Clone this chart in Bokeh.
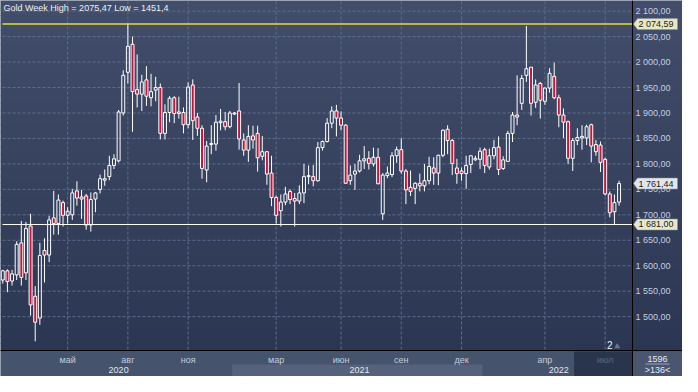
import numpy as np
from bokeh.plotting import figure
from bokeh.models import ColumnDataSource, Range1d
from bokeh.core.properties import value
from bokeh.embed import file_html
from bokeh.resources import INLINE

# ---------------- data (weekly gold candles) ----------------
opens = [1572, 1590, 1570, 1582, 1645, 1586, 1678, 1540, 1497, 1630,
         1621, 1694, 1683, 1724, 1699, 1700, 1747, 1735, 1737, 1680,
         1731, 1750, 1768, 1775, 1797, 1806, 1900, 1980, 2035, 1946,
         1937, 1965, 1930, 1945, 1950, 1860, 1901, 1930, 1899, 1901,
         1877, 1955, 1892, 1870, 1788, 1838, 1839, 1881, 1883, 1873,
         1898, 1904, 1847, 1827, 1855, 1860, 1815, 1824, 1782, 1734,
         1708, 1725, 1746, 1732, 1727, 1743, 1775, 1775, 1767, 1832,
         1844, 1880, 1904, 1890, 1876, 1767, 1780, 1786, 1806, 1811,
         1800, 1813, 1702, 1777, 1779, 1816, 1828, 1786, 1754, 1752,
         1762, 1757, 1767, 1792, 1782, 1817, 1868, 1846, 1792, 1786,
         1781, 1799, 1808, 1809, 1828, 1794, 1816, 1833, 1791, 1805,
         1860, 1896, 1919, 1974, 1990, 1921, 1958, 1923, 1949, 1972,
         1930, 1896, 1883, 1811, 1846, 1851, 1851, 1877, 1838, 1837,
         1809, 1741, 1706, 1725]
highs = [1592, 1593, 1592, 1648, 1688, 1686, 1702, 1560, 1645, 1654,
         1698, 1747, 1740, 1728, 1715, 1751, 1766, 1749, 1741, 1744,
         1745, 1779, 1789, 1816, 1819, 1906, 1984, 2075.47, 2050, 2015,
         1975, 1992, 1977, 1971, 1958, 1917, 1933, 1933, 1932, 1911,
         1960, 1966, 1900, 1876, 1845, 1876, 1896, 1908, 1902, 1904,
         1902, 1959, 1860, 1876, 1875, 1875, 1855, 1825, 1816, 1738,
         1740, 1755, 1750, 1743, 1758, 1800, 1797, 1798, 1843, 1846,
         1890, 1913, 1916, 1903, 1878, 1797, 1800, 1818, 1835, 1825,
         1832, 1831, 1782, 1795, 1823, 1834, 1850, 1790, 1787, 1764,
         1781, 1800, 1814, 1813, 1818, 1868, 1876, 1849, 1810, 1793,
         1816, 1816, 1816, 1832, 1832, 1830, 1847, 1854, 1815, 1865,
         1902, 1974, 1975, 2071, 1990, 1966, 1961, 1950, 1988, 1999,
         1936, 1909, 1885, 1851, 1870, 1876, 1877, 1879, 1847, 1844,
         1812, 1746, 1740, 1767]
lows = [1565, 1548, 1561, 1572, 1561, 1572, 1502, 1451.4, 1484, 1567,
        1607, 1661, 1661, 1677, 1683, 1690, 1718, 1692, 1671, 1667,
        1705, 1742, 1757, 1768, 1790, 1803, 1895, 1958, 1863, 1911,
        1904, 1914, 1913, 1923, 1848, 1848, 1882, 1880, 1889, 1860,
        1870, 1847, 1855, 1771, 1764, 1819, 1826, 1866, 1866, 1870,
        1896, 1828, 1816, 1804, 1830, 1785, 1807, 1759, 1717, 1683,
        1677, 1719, 1721, 1677, 1721, 1723, 1760, 1756, 1765, 1826,
        1842, 1870, 1854, 1866, 1761, 1759, 1749, 1783, 1790, 1789,
        1795, 1760, 1690, 1772, 1774, 1802, 1781, 1721, 1737, 1721,
        1746, 1746, 1760, 1759, 1758, 1813, 1819, 1778, 1761, 1767,
        1751, 1782, 1806, 1790, 1782, 1789, 1809, 1778, 1788, 1804,
        1843, 1876, 1906, 1961, 1895, 1910, 1889, 1916, 1940, 1927,
        1872, 1851, 1800, 1786, 1837, 1828, 1837, 1803, 1816, 1784,
        1738, 1695, 1681.0, 1718]
closes = [1590, 1569, 1584, 1642, 1577, 1673, 1523, 1489, 1620, 1621,
          1690, 1683, 1729, 1699, 1707, 1743, 1733, 1731, 1680, 1730,
          1743, 1771, 1771, 1797, 1810, 1902, 1974, 2031, 1942, 1937,
          1961, 1933, 1942, 1950, 1860, 1901, 1929, 1899, 1902, 1877,
          1951, 1885, 1870, 1791, 1835, 1840, 1882, 1884, 1873, 1900,
          1900, 1849, 1827, 1854, 1847, 1812, 1824, 1780, 1734, 1699,
          1725, 1741, 1730, 1727, 1743, 1775, 1777, 1767, 1832, 1844,
          1880, 1904, 1890, 1876, 1762, 1778, 1786, 1806, 1810, 1801,
          1813, 1761, 1778, 1782, 1816, 1828, 1786, 1749, 1746, 1762,
          1757, 1767, 1795, 1782, 1817, 1866, 1846, 1801, 1781, 1781,
          1797, 1816, 1811, 1825, 1797, 1816, 1832, 1789, 1808, 1860,
          1896, 1892, 1968, 1987, 1919, 1955, 1925, 1949, 1978, 1930,
          1896, 1882, 1811, 1846, 1852, 1854, 1873, 1835, 1824, 1803,
          1741, 1704, 1724, 1761.44]

price_ticks = [1500, 1550, 1600, 1650, 1700, 1750, 1800, 1850, 1900, 1950, 2000, 2050, 2100]
price_tick_labels = ["1 500,00", "1 550,00", "1 600,00", "1 650,00", "1 700,00", "1 750,00",
                     "1 800,00", "1 850,00", "1 900,00", "1 950,00", "2 000,00", "2 050,00",
                     "2 100,00"]
month_tick_bars = [14, 27, 40, 59, 73, 86, 99, 117, 130]
month_tick_labels = ["май", "авг", "ноя", "мар", "июн", "сен", "дек", "апр", "июл"]
year_label_bars = [25, 77, 120]
year_labels = ["2020", "2021", "2022"]
year_2021_first_bar, year_2021_last_bar = 50, 103
resistance_level = 2074.59
support_level = 1681.00
last_price = closes[-1]
event_marker_bar, event_marker_text = 131, "2"
total_bars_text, visible_bars_text = "1596", ">136<"
current_month_first_bar = 124

# ---------------- layout (pixels of the canvas) ----------------
W, H = 682, 376
PL, PR, PT, PB = 2, 632, 1, 350          # price pane
FONT = "Liberation Sans"
x_start, x_end = -0.06, 135.9            # bars visible in the price pane
y_start, y_end = 1433.5, 2119.0          # prices visible in the price pane
ppb = (PR - PL) / (x_end - x_start)
ppu = (PB - PT) / (y_end - y_start)

p = figure(width=W, height=H,
           x_range=Range1d(x_start - PL / ppb, x_start + (W - PL) / ppb),
           y_range=Range1d(y_end - (H - PT) / ppu, y_end + PT / ppu),
           x_axis_location=None, y_axis_location=None,
           output_backend="svg", toolbar_location=None, min_border=0,
           background_fill_color="#36425e", border_fill_color="#36425e",
           outline_line_color="#b9bec8", outline_line_width=2)
p.grid.visible = False
p.extra_x_ranges = {"px": Range1d(0, W)}
p.extra_y_ranges = {"px": Range1d(H, 0)}

# background gradient (price pane + right scale pane)
n_bands = 48
yb = np.linspace(0, PB, n_bands + 1)
top_rgb = np.array([0x41, 0x4d, 0x6a])
bot_rgb = np.array([0x2b, 0x37, 0x52])
tt = np.arange(n_bands) / (n_bands - 1)
band_cols = ["#%02x%02x%02x" % tuple(np.round(top_rgb + (bot_rgb - top_rgb) * t).astype(int)) for t in tt]
p.quad(left=0, right=W, top=yb[:-1], bottom=yb[1:] + 1.0, x_range_name="px", y_range_name="px",
       fill_color=band_cols, line_color=None)

# time-axis band
p.quad(left=[0], right=[W], top=[PB], bottom=[H], x_range_name="px", y_range_name="px",
       fill_color="#46536c", line_color=None)
p.quad(left=[year_2021_first_bar - 0.5], right=[year_2021_last_bar + 0.5], top=[PB + 14], bottom=[H],
       y_range_name="px", fill_color="#56627b", line_color=None)
p.quad(left=[PR], right=[W], top=[PB], bottom=[H], x_range_name="px", y_range_name="px",
       fill_color="#4a5670", line_color=None)

# grid
p.segment(x0=[PL] * len(price_ticks), y0=price_ticks, x1=[PR] * len(price_ticks), y1=price_ticks,
          x_range_name="px", line_color="#5e6d8c", line_width=1, line_dash="3 2")
p.segment(x0=month_tick_bars, y0=[PT] * len(month_tick_bars), x1=month_tick_bars,
          y1=[PB] * len(month_tick_bars), y_range_name="px",
          line_color="#5e6d8c", line_width=1, line_dash="3 2")

# candles
o = np.array(opens, dtype=float)
h = np.array(highs, dtype=float)
l = np.array(lows, dtype=float)
c = np.array(closes, dtype=float)
idx = np.arange(len(o))
up = c >= o
src = ColumnDataSource(dict(
    x=idx, h=h, l=l, top=np.maximum(o, c), bot=np.minimum(o, c),
    fill=np.where(up, "#36425e", "#c8143c"), alpha=np.where(up, 0.0, 1.0)))
p.segment(x0="x", y0="h", x1="x", y1="top", source=src, line_color="white", line_width=1)
p.segment(x0="x", y0="bot", x1="x", y1="l", source=src, line_color="white", line_width=1)
p.vbar(x="x", top="top", bottom="bot", width=0.64, source=src,
       fill_color="fill", fill_alpha="alpha", line_color="white", line_width=1)

# level lines
p.segment(x0=[PL], y0=[resistance_level], x1=[PR], y1=[resistance_level], x_range_name="px",
          line_color="#dede3a", line_width=1.5)
p.segment(x0=[PL], y0=[support_level], x1=[PR], y1=[support_level], x_range_name="px",
          line_color="white", line_width=1)

# pane separators
p.segment(x0=[PR], y0=[0], x1=[PR], y1=[H], x_range_name="px", y_range_name="px",
          line_color="black", line_width=1)
p.segment(x0=[0], y0=[PB], x1=[W], y1=[PB], x_range_name="px", y_range_name="px",
          line_color="black", line_width=1)

# price scale labels
p.text(x=[PR + 3] * len(price_ticks), y=price_ticks, text=price_tick_labels, x_range_name="px",
       text_font=value(FONT), text_font_size=value("9px"), text_color="#c6cee0",
       text_align="left", text_baseline="middle")

# price tags
tag_levels = [resistance_level, last_price, support_level]
tag_colors = ["#e6e8c6", "#e2e6ea", "#e6e8cc"]
th = 5.5 / ppu
p.patches(xs=[[PR + 1, PR + 5, PR + 45, PR + 45, PR + 5] for _ in tag_levels],
          ys=[[v, v + th, v + th, v - th, v - th] for v in tag_levels],
          x_range_name="px", fill_color=tag_colors, line_color="#8c929c", line_width=0.5)
p.text(x=[PR + 6] * len(tag_levels), y=tag_levels, text=[
    f"{v:,.2f}".replace(",", " ").replace(".", ",") for v in tag_levels],
       x_range_name="px", text_font=value(FONT), text_font_size=value("9px"), text_color="#1c1c1c",
       text_align="left", text_baseline="middle")

# title
title_text = f"Gold Week High = {max(highs):g} Low = {min(lows):g}".replace(".", ",")
p.text(x=[3], y=[7], text=[title_text], x_range_name="px", y_range_name="px",
       text_font=value(FONT), text_font_size=value("9px"), text_color="#eef0f4",
       text_align="left", text_baseline="middle")

# time labels
p.text(x=month_tick_bars, y=[PB + 9] * len(month_tick_bars), text=month_tick_labels,
       y_range_name="px", text_font=value(FONT), text_font_size=value("9px"), text_color="#c3cbdc",
       text_align="center", text_baseline="middle")
p.text(x=year_label_bars, y=[PB + 19.5] * len(year_label_bars), text=year_labels,
       y_range_name="px", text_font=value(FONT), text_font_size=value("9px"), text_color="#e2e6ee",
       text_align="center", text_baseline="middle")
# current-month highlight box (dims the label beneath)
p.quad(left=[current_month_first_bar - 0.7], right=[x_end], top=[PB + 1], bottom=[H],
       y_range_name="px", fill_color="#19223a", fill_alpha=0.62, line_color=None)
p.segment(x0=[PR], y0=[PB], x1=[PR], y1=[H], x_range_name="px", y_range_name="px",
          line_color="black", line_width=1)

# event marker near bottom
p.text(x=[event_marker_bar], y=[PB - 6], text=[event_marker_text], y_range_name="px",
       text_font=value(FONT), text_font_size=value("10px"), text_color="#f0f0f0",
       text_align="center", text_baseline="middle")
p.scatter(x=[event_marker_bar + 1.6], y=[PB - 4], y_range_name="px", marker="triangle", size=6,
          fill_color="#6a7794", line_color=None)

# bottom-right counters
p.text(x=[PR + 25] * 2, y=[PB + 8, PB + 19.5], text=[total_bars_text, visible_bars_text],
       x_range_name="px", y_range_name="px", text_font=value(FONT), text_font_size=value("9px"),
       text_color="#e6eaf0", text_align="center", text_baseline="middle")
p.segment(x0=[PR + 13], y0=[PB + 13.5], x1=[PR + 37], y1=[PB + 13.5], x_range_name="px",
          y_range_name="px", line_color="#9aa3b6", line_width=1)

open("out.html", "w").write(file_html(p, INLINE))
